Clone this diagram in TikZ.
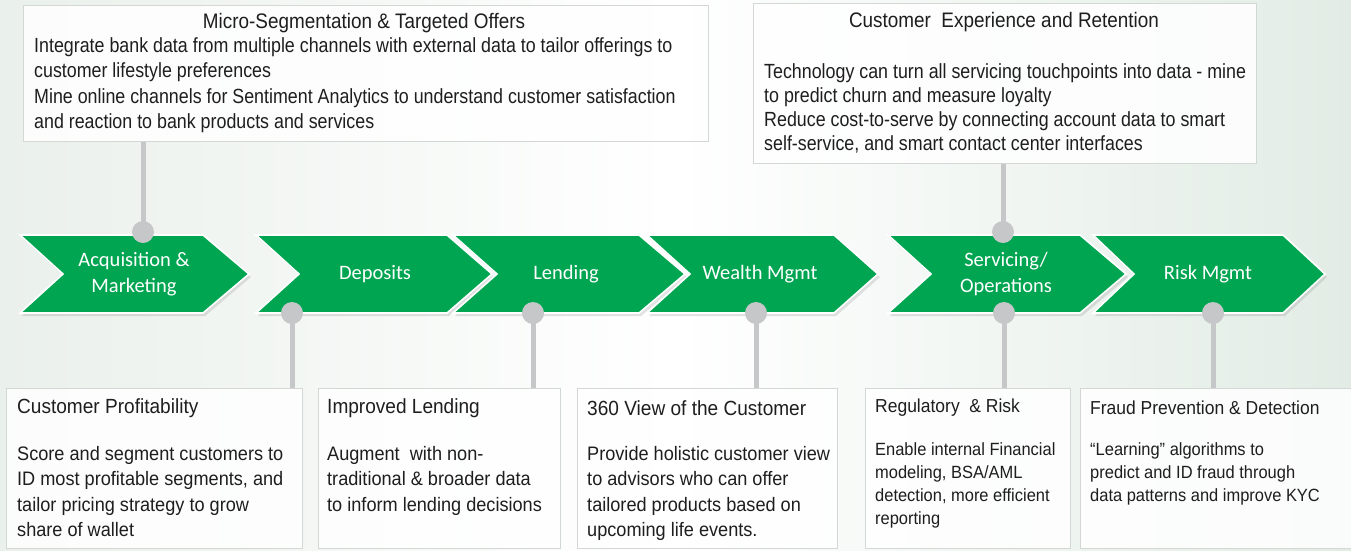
\documentclass[tikz,border=0pt]{standalone}
\usepackage{fontspec}
\setmainfont{Liberation Sans}
\newfontfamily\toptitlefont[FakeStretch=0.9]{Liberation Sans}
\newfontfamily\topbodyfont[FakeStretch=0.87]{Liberation Sans}
\newfontfamily\boxfont[FakeStretch=0.93]{Liberation Sans}
\newfontfamily\chevfont{Carlito}
\usetikzlibrary{shadows}
\definecolor{chgreen}{HTML}{00A551}
\definecolor{lnk}{HTML}{C6C7C9}
\definecolor{bord}{HTML}{D3D8D4}
\definecolor{bgl}{HTML}{EAF0EB}
\definecolor{bgr}{HTML}{E2ECE5}
\definecolor{txt}{HTML}{1E1E1E}
\pgfdeclarelayer{bg}
\pgfdeclarelayer{mid}
\pgfsetlayers{bg,mid,main}
\tikzset{
  chev/.style={fill=chgreen, draw=white, line width=1.6pt, line join=miter,
    drop shadow={opacity=0.22, shadow xshift=2pt, shadow yshift=-3pt}},
  chevlabel/.style={text=white, font=\chevfont\fontsize{20.5}{25.5}\selectfont, align=center},
  dot/.style={circle, fill=lnk, inner sep=0pt, minimum size=22pt},
  link/.style={draw=lnk, line width=5pt},
  infobox/.style={draw=bord, line width=0.8pt, fill=white, fill opacity=0.85, inner sep=0pt, anchor=north west},
  boxtitle/.style={text=txt, inner sep=0pt, anchor=west, font=\boxfont\fontsize{20.5}{25.5}\selectfont},
  boxbody/.style={text=txt, inner sep=0pt, align=left, anchor=north west, font=\boxfont\fontsize{19.5}{25.5}\selectfont},
  smalltitle/.style={boxtitle, font=\boxfont\fontsize{18.8}{23.3}\selectfont},
  smallbody/.style={boxbody, font=\boxfont\fontsize{17.7}{23.3}\selectfont},
  toptitle/.style={text=txt, inner sep=0pt, font=\toptitlefont\fontsize{21}{25.5}\selectfont},
  topbody/.style={text=txt, inner sep=0pt, align=left, anchor=north west, font=\topbodyfont\fontsize{20.5}{25.5}\selectfont},
}
\begin{document}
\begin{tikzpicture}[x=1pt,y=-1pt]
\useasboundingbox (0,0) rectangle (1351,550);
\begin{pgfonlayer}{bg}
\shade[left color=bgl, right color=bgr, middle color=white] (0,0) rectangle (1351,550);
\end{pgfonlayer}

% chevrons
\begin{pgfonlayer}{mid}
\path[chev] (20,235) -- (203,235) -- (249,274) -- (203,313) -- (20,313) -- (63,274) -- cycle;
\path[chev] (256,235) -- (447,235) -- (492,274) -- (447,313) -- (256,313) -- (299,274) -- cycle;
\path[chev] (453,235) -- (639,235) -- (685,274) -- (639,313) -- (453,313) -- (497,274) -- cycle;
\path[chev] (647,235) -- (834,235) -- (878,274) -- (834,313) -- (647,313) -- (690,274) -- cycle;
\path[chev] (888,235) -- (1080,235) -- (1126,274) -- (1080,313) -- (888,313) -- (931,274) -- cycle;
\path[chev] (1093,235) -- (1283,235) -- (1325,274) -- (1283,313) -- (1093,313) -- (1134,274) -- cycle;
\end{pgfonlayer}
\node[chevlabel] (c1) at (134,274) {Acquisition \&\\Marketing};
\node[chevlabel] (c2) at (375,274) {Deposits};
\node[chevlabel] (c3) at (566,274) {Lending};
\node[chevlabel] (c4) at (760,274) {Wealth Mgmt};
\node[chevlabel] (c5) at (1006,274) {Servicing/\\Operations};
\node[chevlabel] (c6) at (1208,274) {Risk Mgmt};

% connection dots
\node[dot] (d1) at (143,232) {};
\node[dot] (d5t) at (1003,232) {};
\node[dot] (d2) at (292,313) {};
\node[dot] (d3) at (533,313) {};
\node[dot] (d4) at (756,313) {};
\node[dot] (d5) at (1004,313) {};
\node[dot] (d6) at (1213,313) {};

% top boxes
\node[infobox, minimum width=685pt, minimum height=136pt] (tl) at (23,5) {};
\node[infobox, minimum width=503pt, minimum height=160pt] (tr) at (753,3) {};

% bottom boxes
\node[infobox, minimum width=296pt, minimum height=160pt] (b1) at (6,388) {};
\node[infobox, minimum width=242pt, minimum height=160pt] (b2) at (318,388) {};
\node[infobox, minimum width=260pt, minimum height=160pt] (b3) at (577,388) {};
\node[infobox, minimum width=205pt, minimum height=160pt] (b4) at (865,388) {};
\node[infobox, minimum width=271pt, minimum height=160pt] (b5) at (1080,388) {};

% connectors
\begin{pgfonlayer}{mid}
\draw[link] (tl.south -| d1) -- (d1.center);
\draw[link] (tr.south -| d5t) -- (d5t.center);
\draw[link] (d2.center) -- (b1.north -| d2);
\draw[link] (d3.center) -- (b2.north -| d3);
\draw[link] (d4.center) -- (b3.north -| d4);
\draw[link] (d5.center) -- (b4.north -| d5);
\draw[link] (d6.center) -- (b5.north -| d6);
\end{pgfonlayer}

% top box texts
\node[toptitle] (tlt) at (364,23) {Micro-Segmentation \& Targeted Offers};
\node[topbody] (tlb) at (34,37) {Integrate bank data from multiple channels with external data to tailor offerings to\\customer lifestyle preferences\\Mine online channels for Sentiment Analytics to understand customer satisfaction\\and reaction to bank products and services};
\node[toptitle] (trt) at (1004,22) {Customer\ \ Experience and Retention};
\node[topbody, font=\topbodyfont\fontsize{20.5}{24}\selectfont] (trb) at (764,63) {Technology can turn all servicing touchpoints into data - mine\\to predict churn and measure loyalty\\Reduce cost-to-serve by connecting account data to smart\\self-service, and smart contact center interfaces};

% bottom box texts
\node[boxtitle] (b1t) at (17,408) {Customer Profitability};
\node[boxbody] (b1b) at (17,446) {Score and segment customers to\\ID most profitable segments, and\\tailor pricing strategy to grow\\share of wallet};
\node[boxtitle] (b2t) at (327,408) {Improved Lending};
\node[boxbody] (b2b) at (327,446) {Augment\ \ with non-\\traditional \& broader data\\to inform lending decisions};
\node[boxtitle] (b3t) at (587,408) {360 View of the Customer};
\node[boxbody] (b3b) at (587,446) {Provide holistic customer view\\to advisors who can offer\\tailored products based on\\upcoming life events.};
\node[smalltitle] (b4t) at (875,408) {Regulatory\ \ \& Risk};
\node[smallbody] (b4b) at (875,442) {Enable internal Financial\\modeling, BSA/AML\\detection, more efficient\\reporting};
\node[smalltitle] (b5t) at (1090,408) {Fraud Prevention \& Detection};
\node[smallbody] (b5b) at (1090,442) {“Learning” algorithms to\\predict and ID fraud through\\data patterns and improve KYC};
\end{tikzpicture}
\end{document}
